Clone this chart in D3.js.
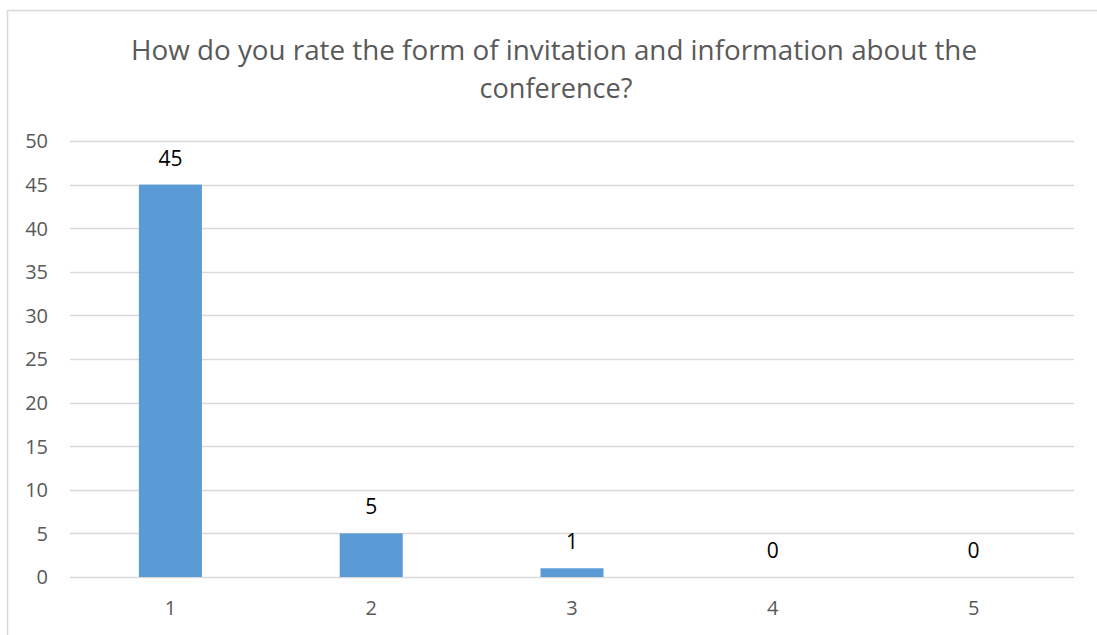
<!DOCTYPE html>
<html>
<head>
<meta charset="utf-8">
<script src="https://cdn.jsdelivr.net/npm/d3@7"></script>
<style>
  body { margin: 0; background: #fff; }
  text { font-family: "Open Sans", "Noto Sans", sans-serif; }
</style>
</head>
<body>
<svg id="chart"></svg>
<script>
const categories = ["1", "2", "3", "4", "5"];
const values = [45, 5, 1, 0, 0];
const yTicks = [0, 5, 10, 15, 20, 25, 30, 35, 40, 45, 50];
const titleLines = ["How do you rate the form of invitation and information about the", "conference?"];

const W = 1097, H = 635;
const margin = {top: 141, right: 23, bottom: 58, left: 70};
const width = W - margin.left - margin.right;
const height = H - margin.top - margin.bottom;

const svg = d3.select("#chart").attr("width", W).attr("height", H);

// chart frame
svg.append("rect")
    .attr("x", 7.5).attr("y", 10.5)
    .attr("width", 1120).attr("height", 660)
    .attr("fill", "none").attr("stroke", "#d9d9d9").attr("stroke-width", 1.5);

const x = d3.scaleBand().domain(categories).range([0, width])
    .paddingInner(0.686).paddingOuter(0.343);
const y = d3.scaleLinear().domain([0, 50]).range([height, 0]);

const plot = svg.append("g")
    .attr("transform", "translate(" + margin.left + "," + margin.top + ")");

// gridlines
plot.append("g").selectAll("line").data(yTicks).enter()
    .append("line")
    .attr("x1", 0).attr("x2", width)
    .attr("y1", d => Math.round(y(d)) + 0.5).attr("y2", d => Math.round(y(d)) + 0.5)
    .attr("stroke", "#d9d9d9").attr("stroke-width", 1.3);

// y axis
const yAxis = plot.append("g").call(d3.axisLeft(y).tickValues(yTicks).tickSize(0).tickPadding(22));
yAxis.select(".domain").remove();
yAxis.selectAll("text")
    .attr("fill", "#595959").style("font-size", "20px")
    .attr("dy", "0.34em");

// x axis
const xAxis = plot.append("g").attr("transform", "translate(0," + height + ")")
    .call(d3.axisBottom(x).tickSize(0));
xAxis.select(".domain").remove();
xAxis.selectAll("text")
    .attr("y", 38).attr("dy", 0)
    .attr("fill", "#595959").style("font-size", "20px");

// bars
plot.selectAll(".bar").data(values).enter()
    .append("rect").attr("class", "bar")
    .attr("x", (d, i) => x(categories[i]))
    .attr("width", x.bandwidth())
    .attr("y", d => y(d))
    .attr("height", d => height - y(d))
    .attr("fill", "#5b9bd5");

// data labels
plot.selectAll(".lbl").data(values).enter()
    .append("text").attr("class", "lbl")
    .attr("x", (d, i) => x(categories[i]) + x.bandwidth() / 2)
    .attr("y", d => y(d) - 19)
    .attr("text-anchor", "middle")
    .attr("fill", "#000")
    .style("font-size", "21px")
    .text(d => d);

// title
svg.append("text")
    .attr("x", 554).attr("y", 60)
    .attr("text-anchor", "middle")
    .attr("fill", "#595959")
    .style("font-size", "28px")
    .attr("textLength", 846).attr("lengthAdjust", "spacingAndGlyphs")
    .text(titleLines[0]);
svg.append("text")
    .attr("x", 556).attr("y", 98)
    .attr("text-anchor", "middle")
    .attr("fill", "#595959")
    .style("font-size", "28px")
    .attr("textLength", 153).attr("lengthAdjust", "spacingAndGlyphs")
    .text(titleLines[1]);
</script>
</body>
</html>
